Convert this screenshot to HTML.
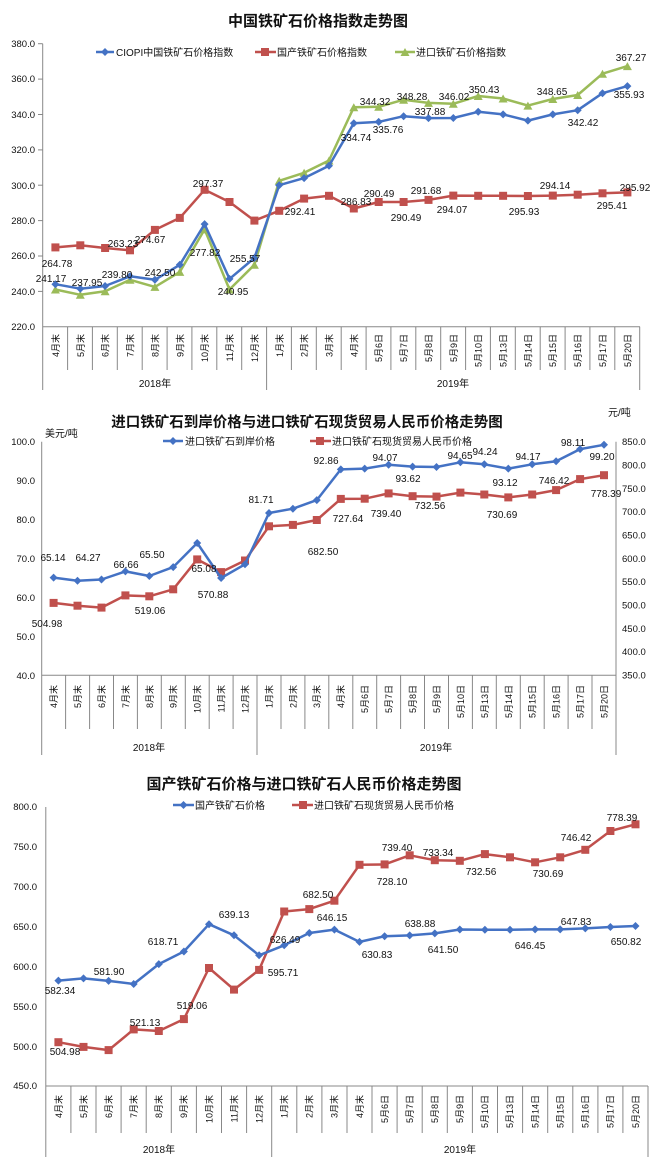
<!DOCTYPE html>
<html><head><meta charset="utf-8"><style>
html,body{margin:0;padding:0;background:#fff;}
svg{display:block;font-family:"Liberation Sans","Noto Sans CJK SC",sans-serif;}
.t{font-weight:bold;fill:#111;}
.ax{stroke:#888;stroke-width:1;fill:none;}
.tk{font-size:9.5px;fill:#111;text-anchor:end;}
.tr{font-size:9.5px;fill:#111;text-anchor:start;}
.lb{font-size:10px;fill:#111;text-anchor:middle;}
.cl{font-size:9px;fill:#111;text-anchor:end;}
.lg{font-size:10px;fill:#111;}
.b{stroke:#4472C4;stroke-width:2.5;fill:none;stroke-linejoin:round;}
.r{stroke:#C0504D;stroke-width:2.5;fill:none;stroke-linejoin:round;}
.g{stroke:#9BBB59;stroke-width:2.5;fill:none;stroke-linejoin:round;}
</style></head><body>
<svg width="650" height="1165" viewBox="0 0 650 1165" xmlns="http://www.w3.org/2000/svg">
<defs>
<marker id="mb" markerUnits="userSpaceOnUse" markerWidth="10" markerHeight="10" refX="5" refY="5"><path d="M5 1L9 5L5 9L1 5Z" fill="#4472C4"/></marker>
<marker id="mr" markerUnits="userSpaceOnUse" markerWidth="10" markerHeight="10" refX="5" refY="5"><rect x="1" y="1" width="8" height="8" fill="#C0504D"/></marker>
<marker id="mg" markerUnits="userSpaceOnUse" markerWidth="10" markerHeight="10" refX="5" refY="5"><path d="M5 1L9.5 9H0.5Z" fill="#9BBB59"/></marker>
</defs>

<!-- ===== Chart 1 ===== -->
<text class="t" x="318" y="26" font-size="15" text-anchor="middle">中国铁矿石价格指数走势图</text>
<g>
<line class="ax" x1="42.7" y1="43.7" x2="42.7" y2="390"/>
<line class="ax" x1="42.7" y1="326.7" x2="640" y2="326.7"/>
<g stroke="#888">
<line x1="38" y1="43.7" x2="42.7" y2="43.7"/><line x1="38" y1="79.1" x2="42.7" y2="79.1"/><line x1="38" y1="114.5" x2="42.7" y2="114.5"/><line x1="38" y1="149.9" x2="42.7" y2="149.9"/><line x1="38" y1="185.2" x2="42.7" y2="185.2"/><line x1="38" y1="220.6" x2="42.7" y2="220.6"/><line x1="38" y1="256" x2="42.7" y2="256"/><line x1="38" y1="291.4" x2="42.7" y2="291.4"/>
</g>
<text class="tk" x="35" y="47">380.0</text><text class="tk" x="35" y="82">360.0</text><text class="tk" x="35" y="118">340.0</text><text class="tk" x="35" y="153">320.0</text><text class="tk" x="35" y="189">300.0</text><text class="tk" x="35" y="224">280.0</text><text class="tk" x="35" y="259">260.0</text><text class="tk" x="35" y="295">240.0</text><text class="tk" x="35" y="330">220.0</text>
<path class="ax" d="M67.6 326.7V370M92.4 326.7V370M117.3 326.7V370M142.2 326.7V370M167.1 326.7V370M191.9 326.7V370M216.8 326.7V370M241.7 326.7V370M266.6 326.7V390M291.4 326.7V370M316.3 326.7V370M341.2 326.7V370M366.1 326.7V370M390.9 326.7V370M415.8 326.7V370M440.7 326.7V370M465.6 326.7V370M490.4 326.7V370M515.3 326.7V370M540.2 326.7V370M565.1 326.7V370M589.9 326.7V370M614.8 326.7V370M639.7 326.7V390"/>
<g class="cl">
<text transform="translate(59,334) rotate(-90)">4月末</text><text transform="translate(84,334) rotate(-90)">5月末</text><text transform="translate(108.5,334) rotate(-90)">6月末</text><text transform="translate(133.5,334) rotate(-90)">7月末</text><text transform="translate(158.5,334) rotate(-90)">8月末</text><text transform="translate(183.5,334) rotate(-90)">9月末</text><text transform="translate(208,334) rotate(-90)">10月末</text><text transform="translate(233,334) rotate(-90)">11月末</text><text transform="translate(258,334) rotate(-90)">12月末</text><text transform="translate(283,334) rotate(-90)">1月末</text><text transform="translate(307.5,334) rotate(-90)">2月末</text><text transform="translate(332.5,334) rotate(-90)">3月末</text><text transform="translate(357.5,334) rotate(-90)">4月末</text><text transform="translate(382,334) rotate(-90)">5月6日</text><text transform="translate(407,334) rotate(-90)">5月7日</text><text transform="translate(432,334) rotate(-90)">5月8日</text><text transform="translate(457,334) rotate(-90)">5月9日</text><text transform="translate(481.5,334) rotate(-90)">5月10日</text><text transform="translate(506.5,334) rotate(-90)">5月13日</text><text transform="translate(531.5,334) rotate(-90)">5月14日</text><text transform="translate(556,334) rotate(-90)">5月15日</text><text transform="translate(581,334) rotate(-90)">5月16日</text><text transform="translate(606,334) rotate(-90)">5月17日</text><text transform="translate(631,334) rotate(-90)">5月20日</text>
</g>
<text class="lb" x="155" y="387">2018年</text><text class="lb" x="453" y="387">2019年</text>
<line x1="96" y1="52" x2="114" y2="52" stroke="#4472C4" stroke-width="2.5"/><path d="M105 48L109 52L105 56L101 52Z" fill="#4472C4"/>
<text class="lg" x="116" y="56" font-size="9.5">CIOPI中国铁矿石价格指数</text>
<line x1="255" y1="52" x2="276" y2="52" stroke="#C0504D" stroke-width="2.5"/><rect x="261" y="48" width="8" height="8" fill="#C0504D"/>
<text class="lg" x="277" y="56" font-size="9.5">国产铁矿石价格指数</text>
<line x1="395" y1="52" x2="415" y2="52" stroke="#9BBB59" stroke-width="2.5"/><path d="M405 48L409.5 56H400.5Z" fill="#9BBB59"/>
<text class="lg" x="416" y="56" font-size="9.5">进口铁矿石价格指数</text>
<polyline class="r" marker-start="url(#mr)" marker-mid="url(#mr)" marker-end="url(#mr)" points="55.4,247.4 80.3,245.3 105.1,248 130,250.3 154.9,229.9 179.8,217.9 204.6,189.8 229.5,202 254.4,220.6 279.2,210.8 304.1,198.6 329,195.8 353.8,208.5 378.7,202 403.6,202 428.5,199.9 453.3,195.6 478.2,195.8 503.1,195.8 527.9,196 552.8,195.6 577.7,194.7 602.5,193.3 627.4,192.4"/>
<polyline class="g" marker-start="url(#mg)" marker-mid="url(#mg)" marker-end="url(#mg)" points="55.4,289.5 80.3,294.8 105.1,291.3 130,279.8 154.9,286.9 179.8,271.9 204.6,229.4 229.5,289.5 254.4,264.8 279.2,180.8 304.1,172.8 329,160.5 353.8,107.3 378.7,106.8 403.6,99.7 428.5,102.9 453.3,103.8 478.2,96 503.1,98.5 527.9,105.6 552.8,99 577.7,95 602.5,73.7 627.4,66.1"/>
<polyline class="b" marker-start="url(#mb)" marker-mid="url(#mb)" marker-end="url(#mb)" points="55.4,284.2 80.3,288.7 105.1,286 130,276.3 154.9,279.8 179.8,264.8 204.6,224.1 229.5,278.9 254.4,258 279.2,185.2 304.1,178.1 329,165.7 353.8,123.3 378.7,121.9 403.6,116.2 428.5,118.1 453.3,118 478.2,111.8 503.1,114.4 527.9,120.6 552.8,114.4 577.7,110.2 602.5,93.2 627.4,86.1"/>
<g class="lb">
<text x="631" y="61">367.27</text><text x="629" y="98">355.93</text><text x="484" y="93">350.43</text><text x="552" y="95">348.65</text><text x="412" y="100">348.28</text><text x="454" y="100">346.02</text><text x="375" y="105">344.32</text><text x="430" y="115">337.88</text><text x="583" y="126">342.42</text><text x="388" y="133">335.76</text><text x="356" y="141">334.74</text><text x="208" y="187">297.37</text><text x="379" y="197">290.49</text><text x="426" y="194">291.68</text><text x="555" y="189">294.14</text><text x="635" y="191">295.92</text><text x="300" y="215">292.41</text><text x="356" y="205">286.83</text><text x="406" y="221">290.49</text><text x="452" y="213">294.07</text><text x="524" y="215">295.93</text><text x="612" y="209">295.41</text><text x="123" y="247">263.23</text><text x="150" y="243">274.67</text><text x="205" y="256">277.82</text><text x="245" y="262">255.57</text><text x="57" y="267">264.78</text><text x="51" y="282">241.17</text><text x="87" y="286">237.95</text><text x="117" y="278">239.80</text><text x="160" y="276">242.50</text><text x="233" y="295">240.95</text>
</g>
</g>

<!-- ===== Chart 2 ===== -->
<text class="t" x="307" y="427" font-size="14.5" text-anchor="middle">进口铁矿石到岸价格与进口铁矿石现货贸易人民币价格走势图</text>
<text class="lg" x="45" y="437" font-size="11">美元/吨</text>
<text class="lg" x="608" y="416" font-size="11">元/吨</text>
<g>
<line class="ax" x1="41.7" y1="441.7" x2="41.7" y2="755"/>
<line class="ax" x1="616" y1="441.7" x2="616" y2="755"/>
<line class="ax" x1="41.7" y1="675.3" x2="616" y2="675.3"/>
<g class="tk">
<text x="35" y="445">100.0</text><text x="35" y="484">90.0</text><text x="35" y="523">80.0</text><text x="35" y="562">70.0</text><text x="35" y="601">60.0</text><text x="35" y="640">50.0</text><text x="35" y="679">40.0</text>
</g>
<g class="tr">
<text x="622" y="445">850.0</text><text x="622" y="468.5">800.0</text><text x="622" y="492">750.0</text><text x="622" y="515">700.0</text><text x="622" y="538.5">650.0</text><text x="622" y="562">600.0</text><text x="622" y="585">550.0</text><text x="622" y="608.5">500.0</text><text x="622" y="632">450.0</text><text x="622" y="655">400.0</text><text x="622" y="678.5">350.0</text>
</g>
<path class="ax" d="M65.6 675.3V729M89.6 675.3V729M113.5 675.3V729M137.4 675.3V729M161.3 675.3V729M185.3 675.3V729M209.2 675.3V729M233.1 675.3V729M257 675.3V755M281 675.3V729M304.9 675.3V729M328.8 675.3V729M352.8 675.3V729M376.7 675.3V729M400.6 675.3V729M424.5 675.3V729M448.5 675.3V729M472.4 675.3V729M496.3 675.3V729M520.3 675.3V729M544.2 675.3V729M568.1 675.3V729M592 675.3V729"/>
<g class="cl">
<text transform="translate(57,685) rotate(-90)">4月末</text><text transform="translate(81,685) rotate(-90)">5月末</text><text transform="translate(105,685) rotate(-90)">6月末</text><text transform="translate(129,685) rotate(-90)">7月末</text><text transform="translate(153,685) rotate(-90)">8月末</text><text transform="translate(176.5,685) rotate(-90)">9月末</text><text transform="translate(200.5,685) rotate(-90)">10月末</text><text transform="translate(224.5,685) rotate(-90)">11月末</text><text transform="translate(248.5,685) rotate(-90)">12月末</text><text transform="translate(272.5,685) rotate(-90)">1月末</text><text transform="translate(296.5,685) rotate(-90)">2月末</text><text transform="translate(320,685) rotate(-90)">3月末</text><text transform="translate(344,685) rotate(-90)">4月末</text><text transform="translate(368,685) rotate(-90)">5月6日</text><text transform="translate(392,685) rotate(-90)">5月7日</text><text transform="translate(416,685) rotate(-90)">5月8日</text><text transform="translate(440,685) rotate(-90)">5月9日</text><text transform="translate(464,685) rotate(-90)">5月10日</text><text transform="translate(488,685) rotate(-90)">5月13日</text><text transform="translate(512,685) rotate(-90)">5月14日</text><text transform="translate(535.5,685) rotate(-90)">5月15日</text><text transform="translate(559.5,685) rotate(-90)">5月16日</text><text transform="translate(583.5,685) rotate(-90)">5月17日</text><text transform="translate(607.5,685) rotate(-90)">5月20日</text>
</g>
<text class="lb" x="149" y="751">2018年</text><text class="lb" x="436" y="751">2019年</text>
<line x1="163" y1="441" x2="183" y2="441" stroke="#4472C4" stroke-width="2.5"/><path d="M173 437L177 441L173 445L169 441Z" fill="#4472C4"/>
<text class="lg" x="185" y="445" font-size="10">进口铁矿石到岸价格</text>
<line x1="310" y1="441" x2="331" y2="441" stroke="#C0504D" stroke-width="2.5"/><rect x="316" y="437" width="8" height="8" fill="#C0504D"/>
<text class="lg" x="332" y="445" font-size="10">进口铁矿石现货贸易人民币价格</text>
<polyline class="r" marker-start="url(#mr)" marker-mid="url(#mr)" marker-end="url(#mr)" points="53.6,602.9 77.5,605.7 101.5,607.6 125.4,595.4 149.3,596.3 173.2,589.3 197.2,559.4 221.1,572.1 245,560.5 269,526.3 292.9,524.9 316.8,520 340.8,498.9 364.7,498.7 388.6,493.4 412.6,496.2 436.5,496.6 460.4,492.6 484.3,494.5 508.3,497.4 532.2,494.5 556.1,490.1 580.1,479.1 604,475.2"/>
<polyline class="b" marker-start="url(#mb)" marker-mid="url(#mb)" marker-end="url(#mb)" points="53.6,577.6 77.5,580.7 101.5,579.5 125.4,571.4 149.3,576 173.2,567.1 197.2,543 221.1,578 245,564.3 269,513 292.9,508.7 316.8,500.1 340.8,469.4 364.7,468.6 388.6,464.7 412.6,466.6 436.5,467 460.4,462.3 484.3,464.3 508.3,468.6 532.2,464.3 556.1,461.2 580.1,449.1 604,444.8"/>
<g class="lb">
<text x="53" y="561">65.14</text><text x="88" y="561">64.27</text><text x="126" y="568">66.66</text><text x="152" y="558">65.50</text><text x="204" y="572">65.08</text><text x="213" y="598">570.88</text><text x="47" y="627">504.98</text><text x="150" y="614">519.06</text><text x="261" y="503">81.71</text><text x="326" y="464">92.86</text><text x="323" y="555">682.50</text><text x="348" y="522">727.64</text><text x="386" y="517">739.40</text><text x="385" y="461">94.07</text><text x="408" y="482">93.62</text><text x="430" y="509">732.56</text><text x="460" y="459">94.65</text><text x="485" y="455">94.24</text><text x="505" y="486">93.12</text><text x="502" y="518">730.69</text><text x="528" y="460">94.17</text><text x="554" y="484">746.42</text><text x="573" y="446">98.11</text><text x="602" y="460">99.20</text><text x="606" y="497">778.39</text>
</g>
</g>

<!-- ===== Chart 3 ===== -->
<text class="t" x="304" y="789" font-size="15" text-anchor="middle">国产铁矿石价格与进口铁矿石人民币价格走势图</text>
<g>
<line class="ax" x1="45.8" y1="807" x2="45.8" y2="1157"/>
<line class="ax" x1="45.8" y1="1086" x2="648" y2="1086"/>
<g class="tk">
<text x="37" y="810">800.0</text><text x="37" y="850">750.0</text><text x="37" y="890">700.0</text><text x="37" y="930">650.0</text><text x="37" y="970">600.0</text><text x="37" y="1010">550.0</text><text x="37" y="1050">500.0</text><text x="37" y="1089">450.0</text>
</g>
<path class="ax" d="M70.9 1086V1133M96 1086V1133M121.1 1086V1133M146.2 1086V1133M171.3 1086V1133M196.4 1086V1133M221.5 1086V1133M246.6 1086V1133M271.7 1086V1157M296.8 1086V1133M321.9 1086V1133M347 1086V1133M372 1086V1133M397.1 1086V1133M422.2 1086V1133M447.3 1086V1133M472.4 1086V1133M497.5 1086V1133M522.6 1086V1133M547.7 1086V1133M572.8 1086V1133M597.9 1086V1133M622.9 1086V1133M648 1086V1157"/>
<g class="cl">
<text transform="translate(62,1095) rotate(-90)">4月末</text><text transform="translate(87,1095) rotate(-90)">5月末</text><text transform="translate(112,1095) rotate(-90)">6月末</text><text transform="translate(137,1095) rotate(-90)">7月末</text><text transform="translate(162,1095) rotate(-90)">8月末</text><text transform="translate(187,1095) rotate(-90)">9月末</text><text transform="translate(212.5,1095) rotate(-90)">10月末</text><text transform="translate(237.5,1095) rotate(-90)">11月末</text><text transform="translate(262.5,1095) rotate(-90)">12月末</text><text transform="translate(287.5,1095) rotate(-90)">1月末</text><text transform="translate(312.5,1095) rotate(-90)">2月末</text><text transform="translate(337.5,1095) rotate(-90)">3月末</text><text transform="translate(363,1095) rotate(-90)">4月末</text><text transform="translate(388,1095) rotate(-90)">5月6日</text><text transform="translate(413,1095) rotate(-90)">5月7日</text><text transform="translate(438,1095) rotate(-90)">5月8日</text><text transform="translate(463,1095) rotate(-90)">5月9日</text><text transform="translate(488,1095) rotate(-90)">5月10日</text><text transform="translate(513,1095) rotate(-90)">5月13日</text><text transform="translate(538.5,1095) rotate(-90)">5月14日</text><text transform="translate(563.5,1095) rotate(-90)">5月15日</text><text transform="translate(588.5,1095) rotate(-90)">5月16日</text><text transform="translate(613.5,1095) rotate(-90)">5月17日</text><text transform="translate(639,1095) rotate(-90)">5月20日</text>
</g>
<text class="lb" x="159" y="1153">2018年</text><text class="lb" x="460" y="1153">2019年</text>
<line x1="173" y1="805" x2="194" y2="805" stroke="#4472C4" stroke-width="2.5"/><path d="M183.5 801L187.5 805L183.5 809L179.5 805Z" fill="#4472C4"/>
<text class="lg" x="195" y="809" font-size="10">国产铁矿石价格</text>
<line x1="292" y1="805" x2="313" y2="805" stroke="#C0504D" stroke-width="2.5"/><rect x="299" y="801" width="8" height="8" fill="#C0504D"/>
<text class="lg" x="314" y="809" font-size="10">进口铁矿石现货贸易人民币价格</text>
<polyline class="r" marker-start="url(#mr)" marker-mid="url(#mr)" marker-end="url(#mr)" points="58.4,1042.2 83.5,1046.9 108.6,1050.1 133.7,1029.4 158.8,1031 183.9,1019.1 209,968 234,989.6 259.1,969.9 284.2,911.5 309.3,909.1 334.4,900.7 359.5,864.8 384.6,864.4 409.7,855.3 434.8,860.2 459.8,860.8 484.9,854.1 510,857.3 535.1,862.3 560.2,857.3 585.3,849.8 610.4,831 635.5,824.3"/>
<polyline class="b" marker-start="url(#mb)" marker-mid="url(#mb)" marker-end="url(#mb)" points="58.4,980.6 83.5,978.4 108.6,980.9 133.7,984 158.8,964.1 183.9,951.5 209,924.2 234,935.3 259.1,955.3 284.2,945.3 309.3,933 334.4,929.6 359.5,941.9 384.6,936.2 409.7,935.4 434.8,933.4 459.8,929.5 484.9,929.8 510,929.8 535.1,929.4 560.2,929.4 585.3,928.4 610.4,927 635.5,926"/>
<g class="lb">
<text x="622" y="821">778.39</text><text x="576" y="841">746.42</text><text x="397" y="851">739.40</text><text x="438" y="856">733.34</text><text x="481" y="875">732.56</text><text x="548" y="877">730.69</text><text x="392" y="885">728.10</text><text x="318" y="898">682.50</text><text x="234" y="918">639.13</text><text x="332" y="921">646.15</text><text x="420" y="927">638.88</text><text x="576" y="925">647.83</text><text x="163" y="945">618.71</text><text x="285" y="943">626.49</text><text x="443" y="953">641.50</text><text x="530" y="949">646.45</text><text x="626" y="945">650.82</text><text x="377" y="958">630.83</text><text x="109" y="975">581.90</text><text x="283" y="976">595.71</text><text x="60" y="994">582.34</text><text x="192" y="1009">519.06</text><text x="145" y="1026">521.13</text><text x="65" y="1055">504.98</text>
</g>
</g>
</svg>
</body></html>
